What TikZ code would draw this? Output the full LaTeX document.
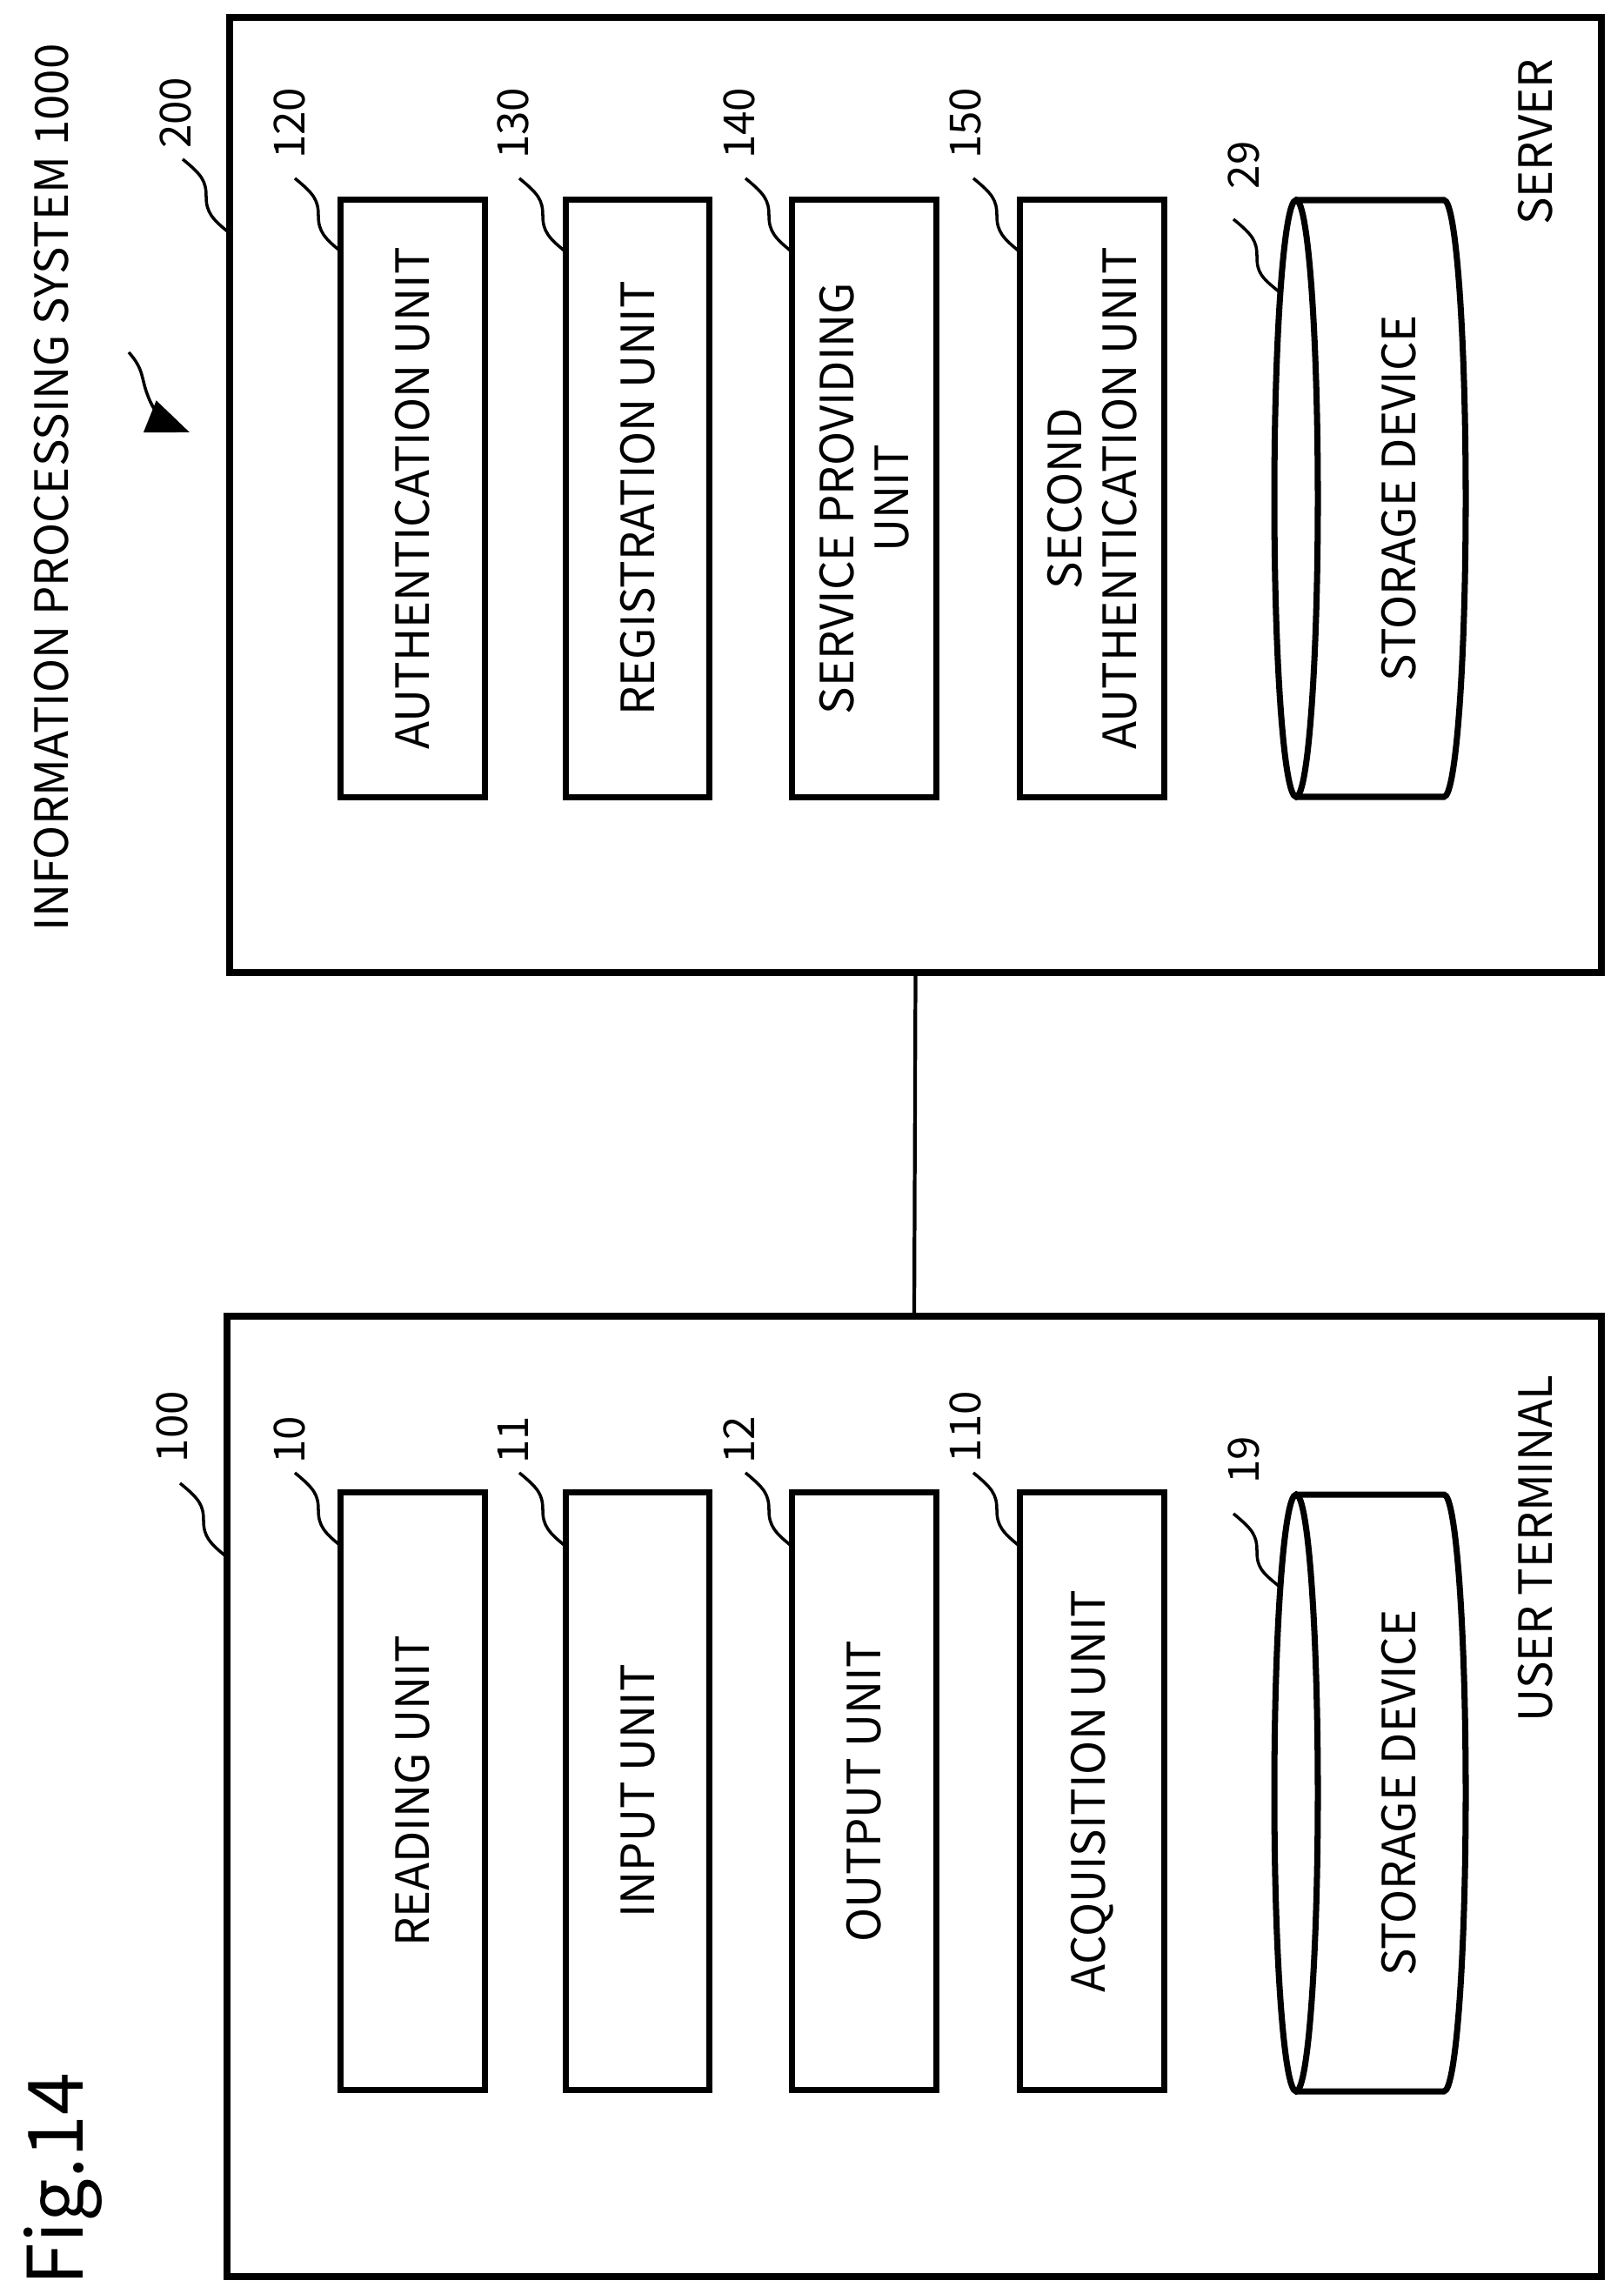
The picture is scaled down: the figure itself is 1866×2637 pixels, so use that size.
\documentclass[tikz,border=0pt]{standalone}
\usepackage{fontspec}
\setmainfont{Noto Sans CJK JP}
\usetikzlibrary{positioning,arrows.meta}

\newcommand\leaderline[2]{%
  \draw[leader] (#1) .. controls +(22,18) and +(0,-18) .. ++(27,43)
    .. controls +(0,18) and +(-20,-16) .. (#2);}

\begin{document}
\begin{tikzpicture}[
		x=0.01cm, y=-0.01cm,
		frame/.style={draw, line width=2.2pt, inner sep=0pt},
		unit/.style={draw, line width=2pt, inner sep=0pt,
			rotate=90, minimum width=6.86cm, minimum height=1.65cm,
			font=\fontsize{15}{18}\selectfont, align=center},
		lbl/.style={rotate=90, font=\fontsize{15}{18}\selectfont, inner sep=0pt},
		num/.style={rotate=90, font=\fontsize{14}{16}\selectfont, inner sep=0pt},
		leader/.style={line width=1pt},
		>=Latex
		]
		\useasboundingbox (0,0) rectangle (1866,2637);
		% outer frames
		\draw[frame] (264,20) rectangle (1841,1118);
		\node[inner sep=0pt, minimum width=15.77cm, minimum height=10.98cm] (server) at (1052.5,569) {};
		\draw[frame] (261,1513) rectangle (1841,2617);
		\node[inner sep=0pt, minimum width=15.80cm, minimum height=11.04cm] (user) at (1051,2065) {};
		\draw[line width=1.2pt] (server.south) -- (user.north);
		% server units
		\node[unit] (auth) at (474.5,573) {AUTHENTICATION UNIT};
		\node[unit] (reg) at (733,573) {REGISTRATION UNIT};
		\node[unit] (serv) at (993.5,573) {SERVICE PROVIDING\\UNIT};
		\node[unit] (auth2) at (1255.5,573) {SECOND\\AUTHENTICATION UNIT};
		% user units
		\node[unit] (read) at (474.5,2059) {READING UNIT};
		\node[unit] (inp) at (733,2059) {INPUT UNIT};
		\node[unit] (outp) at (993.5,2059) {OUTPUT UNIT};
		\node[unit] (acq) at (1255.5,2059) {ACQUISITION UNIT};
		% storage devices
		\foreach \yy/\nm in {230/stsrv, 1718/stusr}{
			\draw[line width=2pt] (1490,\yy) -- (1660,\yy)
				arc[start angle=-90, end angle=90, x radius=25, y radius=343] -- (1490,\yy+686);
			\draw[line width=2pt] (1490,\yy+343) ellipse[x radius=25, y radius=343];
			\node[lbl] (\nm) at (1608,\yy+343) {STORAGE DEVICE};
		}
		% labels
		\node[lbl, anchor=east] (srvlbl) at (1765,67) {SERVER};
		\node[lbl, anchor=east] (usrlbl) at (1765,1580) {USER TERMINAL};
		\node[lbl, anchor=east] (sys) at (59,50) {INFORMATION PROCESSING SYSTEM 1000};
		\node[rotate=90, font=\fontsize{25}{30}\selectfont, inner sep=0pt] (fig) at (72,2505) {Fig.14};
		\coordinate (sysA) at (148,405);
		\coordinate (sysB) at (218,497);
		\draw[leader, -{Triangle[length=14pt, width=11pt]}] (sysA) .. controls +(18,20) and +(-8,-20) .. ++(22,50)
			.. controls +(8,22) and +(-25,-10) .. (sysB);
		% reference numerals
		\foreach \xx/\yy/\tx in {202/130/200, 333/142/120, 590/142/130, 850/142/140, 1110/142/150,
			198/1640/100, 333/1655/10, 590/1655/11, 850/1655/12, 1110/1640/110}
			\node[num] at (\xx,\yy) {\tx};
		\node[num] (n29) at (1430,190) {29};
		\node[num] (n19) at (1430,1678) {19};
		% leaders
		\leaderline{210,183}{264,268}
		\foreach \xx in {393,651,911,1173}{
			\leaderline{\xx-54,205}{\xx,290}
			\leaderline{\xx-54,1693}{\xx,1778}
		}
		\leaderline{1418,252}{1470,335}
		\leaderline{1418,1740}{1470,1823}
		\leaderline{207,1705}{261,1790}
\end{tikzpicture}
\end{document}
